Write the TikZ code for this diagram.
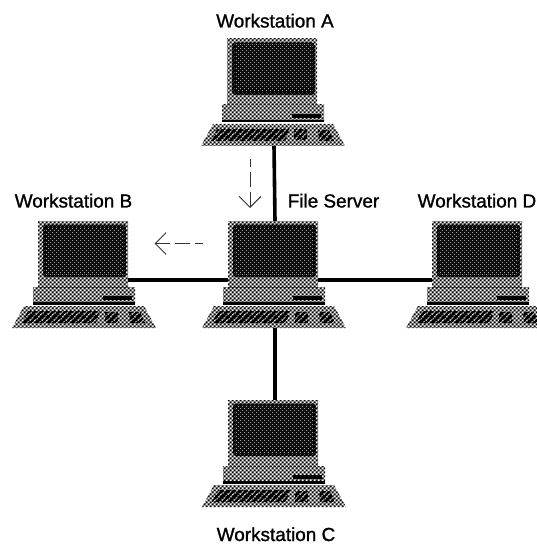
\documentclass[tikz,border=0pt]{standalone}
\usepackage{fontspec}
\newfontfamily\labfont[FakeBold=1.2]{Liberation Sans}
\usetikzlibrary{patterns,arrows.meta}
\pgfdeclarepatternformonly{htlight}{\pgfpoint{-2bp}{-2bp}}{\pgfpoint{4bp}{4bp}}{\pgfpoint{4bp}{4bp}}{%
  \pgfpathrectangle{\pgfpoint{-0.5bp}{-0.5bp}}{\pgfpoint{2bp}{2bp}}\pgfpathrectangle{\pgfpoint{1.5bp}{1.5bp}}{\pgfpoint{2bp}{2bp}}\pgfusepath{fill}}
\pgfdeclarepatternformonly{htdark}{\pgfpoint{-2bp}{-2bp}}{\pgfpoint{4bp}{4bp}}{\pgfpoint{4bp}{4bp}}{%
  \pgfpathcircle{\pgfpoint{0.5bp}{0.5bp}}{1.8bp}\pgfpathcircle{\pgfpoint{2.5bp}{2.5bp}}{1.8bp}\pgfusepath{fill}}
\pgfdeclarepatternformonly{htspeck}{\pgfpoint{-1bp}{-1bp}}{\pgfpoint{3bp}{3bp}}{\pgfpoint{4bp}{4bp}}{%
  \pgfpathcircle{\pgfpoint{0.5bp}{0.5bp}}{0.3bp}\pgfpathcircle{\pgfpoint{2.5bp}{2.5bp}}{0.3bp}\pgfusepath{fill}}
\pgfdeclarepatternformonly{htkeys}{\pgfpoint{0bp}{0bp}}{\pgfpoint{6bp}{6bp}}{\pgfpoint{6bp}{6bp}}{%
  \pgfsetlinewidth{2.6bp}\pgfpathmoveto{\pgfpoint{-1bp}{-1bp}}\pgfpathlineto{\pgfpoint{7bp}{7bp}}\pgfpathmoveto{\pgfpoint{-4bp}{2bp}}\pgfpathlineto{\pgfpoint{2bp}{8bp}}\pgfpathmoveto{\pgfpoint{2bp}{-4bp}}\pgfpathlineto{\pgfpoint{8bp}{2bp}}\pgfusepath{stroke}}
\tikzset{
  x=1bp,y=-1bp,
  label text/.style={font=\labfont\fontsize{19}{20}\selectfont,text=black,inner sep=0pt,anchor=base},
  light part/.style={pattern=htlight,pattern color=black},
  dark part/.style={pattern=htdark,pattern color=black},
  key part/.style={pattern=htkeys,pattern color=black},
  screen part/.style={fill=black!95},
  cable/.style={line width=3.6bp,black},
  flow/.style={line width=0.9bp,black!80,dash pattern=on 8bp off 5bp on 15bp off 5bp on 40bp,-{Straight Barb[length=11bp,width=22bp,line width=0.9bp]}},
  computer/.pic={
    \fill[light part] (0,0) rectangle (90,66);
    \fill[dark part,rounded corners=3bp] (5,3.5) rectangle (88,56);
    \fill[screen part] (8,6) rectangle (85,53);
    \fill[pattern=htspeck,pattern color=white] (8,6) rectangle (85,53);
    \fill[light part] (-5,66) rectangle (97,83);
    \fill[black] (65,75) rectangle (94,79);
    \fill[black] (-5,81) rectangle (97,83.5);
    \fill[light part] (-14,85) -- (106,85) -- (118,107) -- (-26,107) -- cycle;
    \fill[key part] (-10,90) -- (62,90) -- (58,102) -- (-16,102) -- cycle;
    \fill[key part] (67,91) -- (80,91) -- (80,101) -- (67,101) -- cycle;
    \fill[key part] (91,91) -- (102,91) -- (107,102) -- (92,102) -- cycle;
    \coordinate (-top) at (47,0);
    \coordinate (-bottom) at (47,107);
    \coordinate (-left) at (0,59);
    \coordinate (-right) at (90,59);
  }
}
\begin{document}
\begin{tikzpicture}
\useasboundingbox (0,0) rectangle (537,545);
\clip (0,0) rectangle (537,545);
\pic (A) at (227,39) {computer};
\pic (B) at (38,221) {computer};
\pic (S) at (228,221) {computer};
\pic (D) at (432,221) {computer};
\pic (C) at (228,400) {computer};
\draw[cable] (A-bottom) -- (S-top);
\draw[cable] (B-right) -- (S-left);
\draw[cable] (S-right) -- (D-left);
\draw[cable] (S-bottom) -- (C-top);
\node[label text] (la) at (275,27.5) {Workstation A};
\node[label text] (lb) at (73.5,207.5) {Workstation B};
\node[label text] (ls) at (333.5,207.5) {File Server};
\node[label text,anchor=base west] (ld) at (417.5,207.5) {Workstation D};
\node[label text] (lc) at (276,541) {Workstation C};
\coordinate (f1s) at (250,159);
\coordinate (f1e) at (250,208);
\coordinate (f2s) at (203,243.5);
\coordinate (f2e) at (154.5,243.5);
\draw[flow] (f1s) -- (f1e);
\draw[flow] (f2s) -- (f2e);
\end{tikzpicture}
\end{document}
